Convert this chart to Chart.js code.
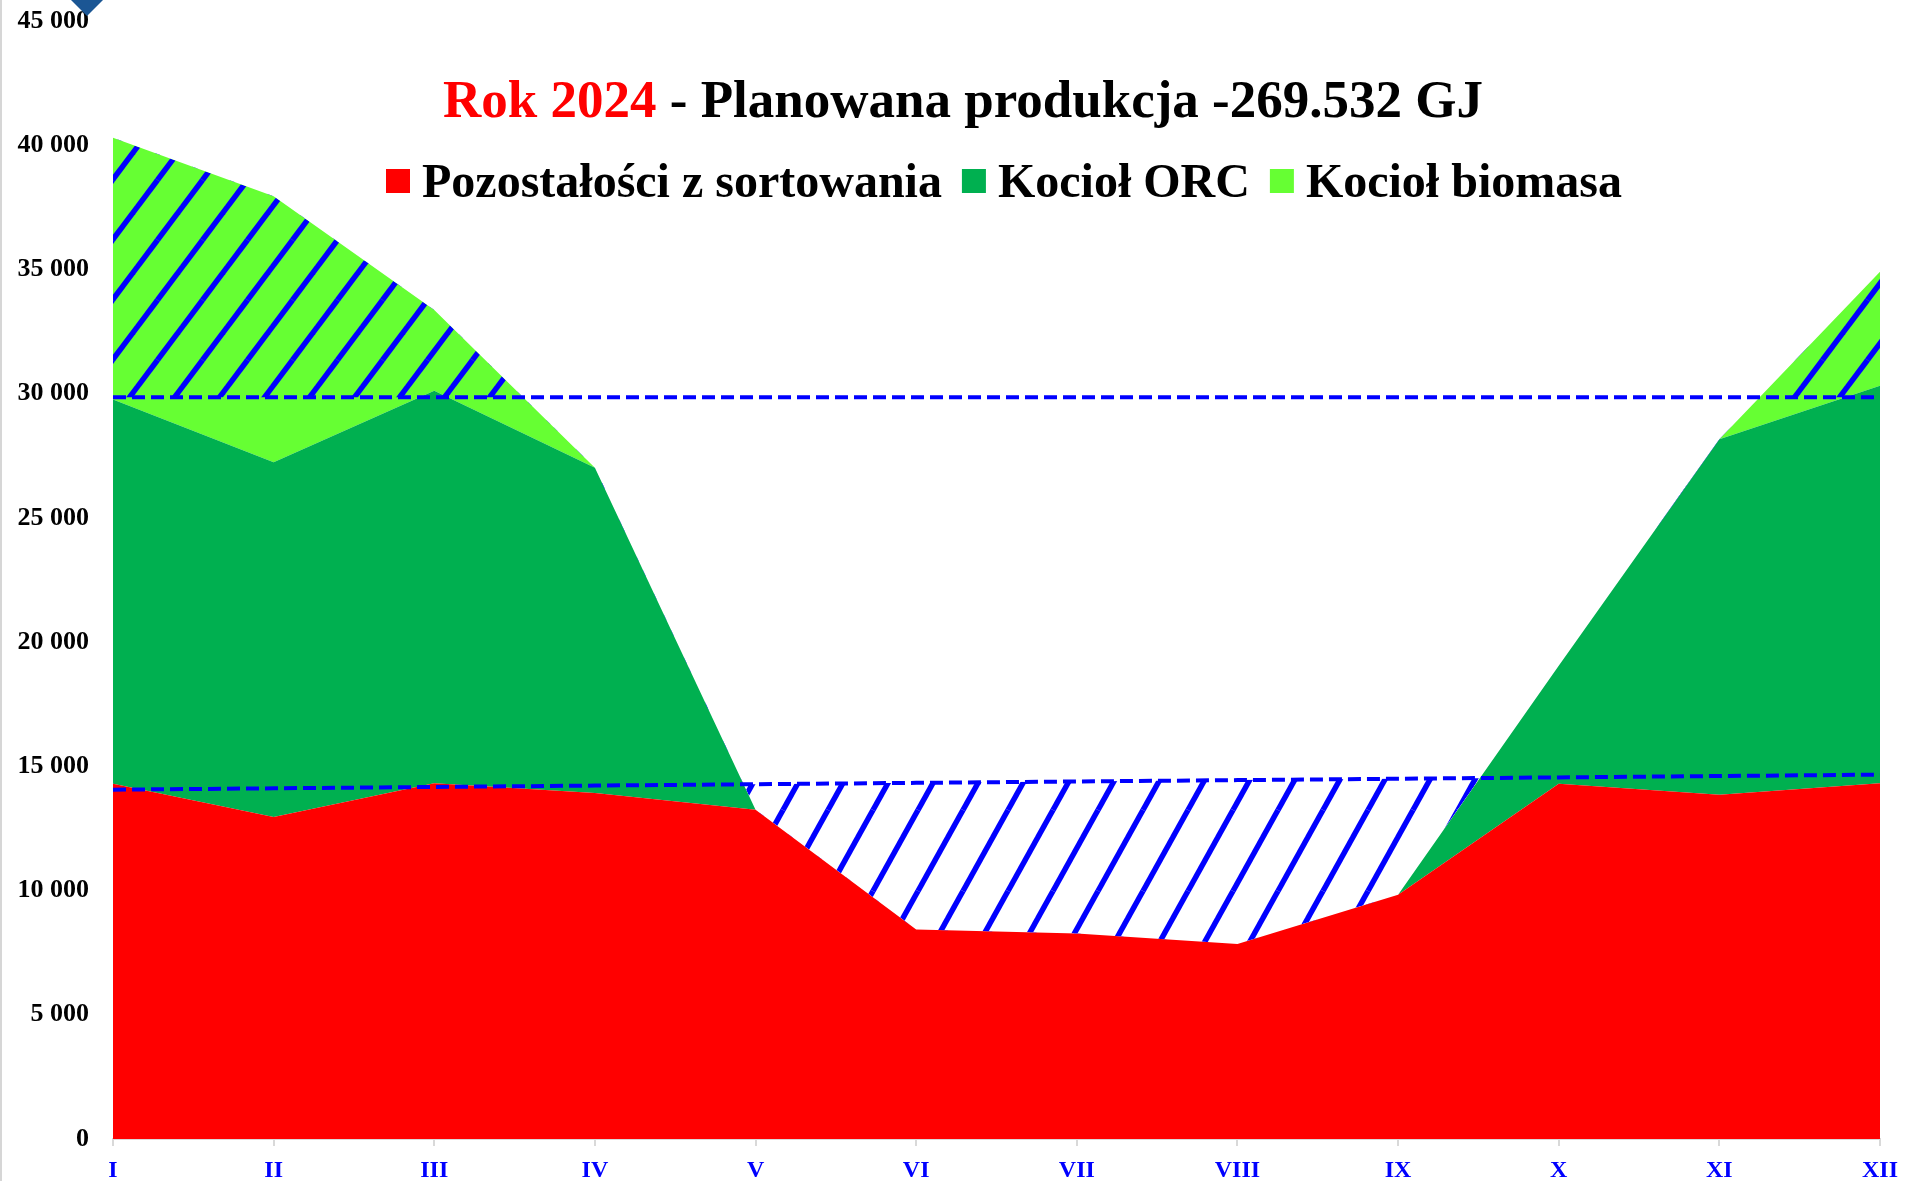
<!DOCTYPE html>
<html>
<head>
<meta charset="utf-8">
<script src="https://cdn.jsdelivr.net/npm/chart.js@4.4.1/dist/chart.umd.min.js"></script>
<style>
html,body{margin:0;padding:0;background:#fff;overflow:hidden}
#wrap{position:relative;width:1905px;height:1181px}
canvas{display:block}
#edge{position:absolute;left:0;top:0;width:2px;height:1181px;background:#d6d6d6}
#diamond{position:absolute;left:75px;top:-13px;width:24px;height:24px;background:#1b5694;transform:rotate(45deg)}
</style>
</head>
<body>
<div id="wrap">
<canvas id="c" width="1905" height="1181"></canvas>
<div id="edge"></div>
<div id="diamond"></div>
</div>
<script>
// ---- data ----
const months = ['I','II','III','IV','V','VI','VII','VIII','IX','X','XI','XII'];
const residues = [14300, 12960, 14320, 13930, 13250, 8430, 8270, 7850, 9830, 14300, 13860, 14320];
const orc      = [15470, 14280, 15800, 13090, 0, 0, 0, 0, 0, 4750, 14310, 16000];
const biomass  = [10530, 10710, 3250, 0, 0, 0, 0, 0, 0, 0, 0, 4590];
const upperLevel = [29860, 29860, 29860, 29860, 29860, 29860, 29860, 29860, 29860, 29860, 29860, 29860];
const lowerLevel = [14060, 14115, 14170, 14225, 14280, 14335, 14390, 14445, 14500, 14555, 14610, 14665];
const yTickValues = [0, 5000, 10000, 15000, 20000, 25000, 30000, 35000, 40000, 45000];
const seriesNames = ['Pozostałości z sortowania', 'Kocioł ORC', 'Kocioł biomasa'];
const titleYear = 'Rok 2024';
const titleRest = ' - Planowana produkcja -269.532 GJ';

const RED = '#ff0000', GREEN = '#00b050', LIGHT = '#66ff33', BLUE = '#0000ff';
const FONT = '"Liberation Serif", "Times New Roman", serif';

function makeHatch(W, H, off, lw) {
  const c = document.createElement('canvas');
  c.width = W; c.height = H;
  const x = c.getContext('2d');
  x.strokeStyle = BLUE; x.lineWidth = lw;
  for (let j = -1; j <= 1; j++) {
    for (let k = -2; k <= 2; k++) {
      x.beginPath();
      x.moveTo(k * W + off, H + j * H);
      x.lineTo(k * W + off + W, j * H);
      x.stroke();
    }
  }
  return x.createPattern(c, 'repeat');
}
const hatchUpper = makeHatch(45, 60, 22.5, 5.5);
const hatchLower = makeHatch(45, 81, 18, 5.5);

function fmt(v) { return String(v).replace(/\B(?=(\d{3})+(?!\d))/g, ' '); }
function noPad(s) { s.paddingTop = 0; s.paddingBottom = 0; s.paddingLeft = 0; s.paddingRight = 0; }

const headerPlugin = {
  id: 'header',
  afterDraw(chart) {
    const ctx = chart.ctx;
    ctx.save();
    ctx.textAlign = 'left';
    ctx.textBaseline = 'alphabetic';
    ctx.font = 'bold 53px ' + FONT;
    let x = 443; const y = 117;
    ctx.fillStyle = RED; ctx.fillText(titleYear, x, y);
    x += ctx.measureText(titleYear).width;
    ctx.fillStyle = '#000'; ctx.fillText(titleRest, x, y);

    ctx.font = 'bold 48px ' + FONT;
    let lx = 386;
    chart.data.datasets.slice(0, 3).forEach(ds => {
      ctx.fillStyle = ds.backgroundColor;
      ctx.fillRect(lx, 169, 24, 24);
      lx += 24 + 12;
      ctx.fillStyle = '#000';
      ctx.fillText(ds.label, lx, 197);
      lx += ctx.measureText(ds.label).width + 20;
    });
    ctx.restore();
  }
};

const areaCommon = { borderWidth: 0, borderColor: 'rgba(0,0,0,0)', pointRadius: 0, pointHoverRadius: 0, tension: 0, stack: 'main', order: 2 };

new Chart(document.getElementById('c'), {
  type: 'line',
  data: {
    labels: months,
    datasets: [
      Object.assign({ label: seriesNames[0], data: residues, backgroundColor: RED, fill: 'origin' }, areaCommon),
      Object.assign({ label: seriesNames[1], data: orc, backgroundColor: GREEN, fill: '-1' }, areaCommon),
      Object.assign({ label: seriesNames[2], data: biomass, backgroundColor: LIGHT, fill: '-1' }, areaCommon),
      { label: 'upper', data: upperLevel, borderColor: BLUE, borderWidth: 4, borderDash: [13, 6],
        pointRadius: 0, tension: 0, stack: 'u', order: 1,
        fill: { target: 2, above: 'rgba(0,0,0,0)', below: hatchUpper } },
      { label: 'lower', data: lowerLevel, borderColor: BLUE, borderWidth: 4, borderDash: [13, 6],
        pointRadius: 0, tension: 0, stack: 'l', order: 1,
        fill: { target: 2, above: hatchLower, below: 'rgba(0,0,0,0)' } }
    ]
  },
  options: {
    responsive: false,
    animation: false,
    devicePixelRatio: 1,
    layout: { padding: { top: 21, right: 25, left: 0, bottom: 0 } },
    plugins: { legend: { display: false }, title: { display: false }, tooltip: { enabled: false } },
    scales: {
      x: {
        type: 'category',
        offset: false,
        grid: { display: true, drawOnChartArea: false, drawTicks: true, tickLength: 7, color: '#d9d9d9', lineWidth: 2 },
        border: { display: true, color: '#d9d9d9', width: 2 },
        ticks: { color: BLUE, font: { family: FONT, size: 24, weight: 'bold', lineHeight: 1 }, padding: 13, autoSkip: false, maxRotation: 0 },
        afterFit: s => { s.height = 42; noPad(s); }
      },
      y: {
        stacked: true,
        min: 0, max: 45000,
        afterBuildTicks: s => { s.ticks = yTickValues.map(v => ({ value: v })); },
        grid: { display: false, drawTicks: false },
        border: { display: false },
        ticks: { color: '#000', font: { family: FONT, size: 26, weight: 'bold' }, padding: 24, callback: v => fmt(v) },
        afterFit: s => { s.width = 113; noPad(s); }
      }
    }
  },
  plugins: [headerPlugin]
});
</script>
</body>
</html>
